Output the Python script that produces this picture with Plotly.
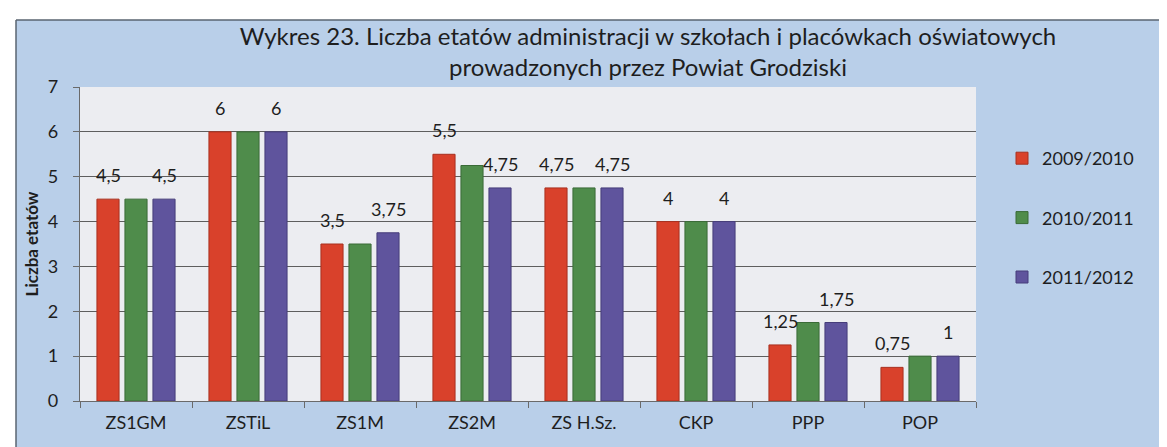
import plotly.graph_objects as go

categories = ["ZS1GM", "ZSTiL", "ZS1M", "ZS2M", "ZS H.Sz.", "CKP", "PPP", "POP"]
series_names = ["2009/2010", "2010/2011", "2011/2012"]
v_2009 = [4.5, 6, 3.5, 5.5, 4.75, 4, 1.25, 0.75]
v_2010 = [4.5, 6, 3.5, 5.25, 4.75, 4, 1.75, 1]
v_2011 = [4.5, 6, 3.75, 4.75, 4.75, 4, 1.75, 1]
y_ticks = [0, 1, 2, 3, 4, 5, 6, 7]

values = [v_2009, v_2010, v_2011]
colors = ["#d9412b", "#4f8c4b", "#5f549d"]
line_colors = ["#a8301f", "#3a6b37", "#463d7a"]
labelled = [True, False, True]
label_xshift = [-28, 0, 28]

W, H = 1167, 447
L, R, T, B = 72, 199, 79, 54
pw, ph = W - L - R, H - T - B


def px_x(p):
    return (p - L) / pw


def px_y(p):
    return (H - B - p) / ph


def fmt(v):
    return ("%g" % v).replace(".", ",")


fig = go.Figure()
for i, (name, vals) in enumerate(zip(series_names, values)):
    fig.add_trace(go.Bar(
        x=categories, y=vals, name=name,
        marker=dict(color=colors[i], line=dict(color=line_colors[i], width=1)),
        legendgroup=name,
    ))

annotations = []
for i, vals in enumerate(values):
    if not labelled[i]:
        continue
    for c, v in zip(categories, vals):
        annotations.append(dict(
            x=c, y=v, text=fmt(v), showarrow=False, xref="x", yref="y",
            xshift=label_xshift[i], yshift=24, yanchor="middle",
            font=dict(family="Lato", size=18, color="#1e1e1e"),
        ))

shapes = [
    dict(type="rect", xref="paper", yref="paper", x0=px_x(-5), x1=px_x(W + 5),
         y0=px_y(12), y1=px_y(-5), fillcolor="white", line=dict(width=0), layer="below"),
    dict(type="rect", xref="paper", yref="paper", x0=px_x(-5), x1=px_x(8),
         y0=px_y(H + 5), y1=px_y(12), fillcolor="white", line=dict(width=0), layer="below"),
    dict(type="line", xref="paper", yref="paper", x0=px_x(8), x1=px_x(W + 5),
         y0=px_y(12), y1=px_y(12), line=dict(color="#5a6470", width=1.5)),
    dict(type="line", xref="paper", yref="paper", x0=px_x(8), x1=px_x(8),
         y0=px_y(12), y1=px_y(H + 5), line=dict(color="#5a6470", width=1.5)),
]

fig.update_layout(
    width=W, height=H,
    margin=dict(l=L, r=R, t=T, b=B),
    paper_bgcolor="#b9cfe9",
    plot_bgcolor="#ecedf1",
    font=dict(family="Lato", size=18, color="#1e1e1e"),
    title=dict(
        text="Wykres 23. Liczba etatów administracji w szkołach i placówkach oświatowych<br>prowadzonych przez Powiat Grodziski",
        x=640 / W, xanchor="center", xref="container",
        y=1 - 37 / H, yanchor="middle", yref="container",
        font=dict(family="Lato", size=24, color="#1e1e1e"),
    ),
    barmode="group",
    bargap=0.25,
    bargroupgap=0.21,
    showlegend=True,
    legend=dict(
        x=px_x(994), xanchor="left", y=px_y(132), yanchor="top",
        bgcolor="rgba(0,0,0,0)", font=dict(size=18, color="#1e1e1e"),
        tracegroupgap=33, itemwidth=30,
    ),
    xaxis=dict(
        showline=True, linecolor="#6a6a6a", linewidth=1.3,
        ticks="outside", tickson="boundaries", ticklen=6, tickcolor="#6a6a6a",
        ticklabelstandoff=5,
        tickfont=dict(size=18, color="#1e1e1e"),
        showgrid=False,
    ),
    yaxis=dict(
        range=[0, 7], tickvals=y_ticks, ticktext=[str(t) for t in y_ticks],
        showline=True, linecolor="#6a6a6a", linewidth=1.3,
        ticks="outside", ticklen=6, tickcolor="#6a6a6a",
        ticklabelstandoff=11,
        showgrid=True, gridcolor="#5e5e5e", gridwidth=1.3,
        zeroline=False,
        tickfont=dict(size=18, color="#1e1e1e"),
        title=dict(text="<b>Liczba etatów</b>", standoff=4,
                   font=dict(size=17, color="#1e1e1e")),
    ),
    annotations=annotations,
    shapes=shapes,
)

fig.write_html("out.html")
